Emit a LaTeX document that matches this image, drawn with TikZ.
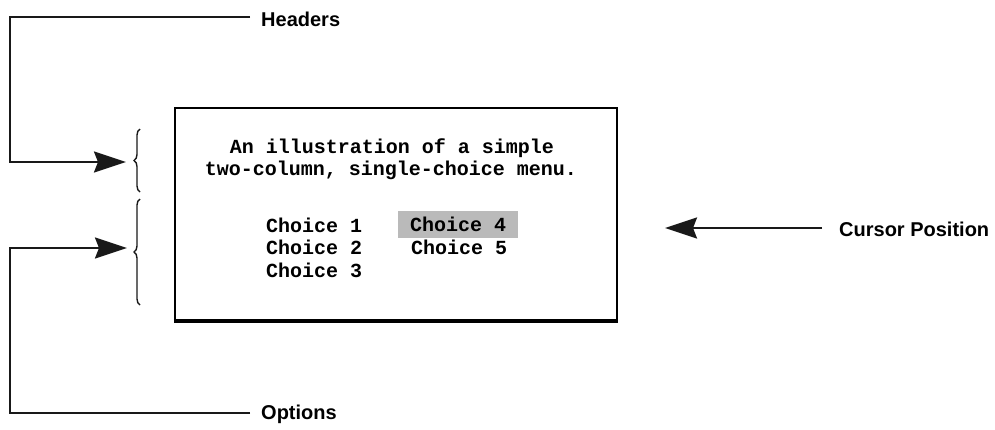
\documentclass[tikz,border=0pt]{standalone}
\usepackage{fontspec}
\setmainfont{Liberation Sans}
\newfontfamily\screenfont{Liberation Mono}
\usetikzlibrary{arrows.meta,calc,positioning,decorations.pathreplacing}
\tikzset{
  node-label/.style={anchor=west,inner sep=0pt,font=\fontsize{20}{22}\selectfont\bfseries},
  node-menu/.style={draw,line width=2.2pt,minimum width=442pt,minimum height=212pt,inner sep=0pt},
  node-line/.style={inner sep=0pt,font=\fontsize{20}{22}\selectfont\screenfont\bfseries},
  node-choice/.style={anchor=west,inner sep=0pt,font=\fontsize{20}{22}\selectfont\screenfont\bfseries},
  node-sel/.style={node-choice,fill=black!27,inner xsep=12pt,minimum height=27pt},
  conn/.style={line width=2.4pt,black!90,-{Stealth[length=32pt,width=21pt,inset=4pt]}},
  wavy/.style={decorate,decoration={brace,amplitude=6pt},line width=1.4pt,black!90},
}

\begin{document}
\begin{tikzpicture}[x=1pt,y=-1pt]
  \useasboundingbox (0,0) rectangle (995,429);

  % MENU BOX
  \node[node-menu] (menu) at (396,214) {};
  \draw[line width=4.5pt] (menu.south west) -- (menu.south east);
  \node[node-line] (l1) at (392,148) {An illustration of a simple};
  \node[node-line] (l2) at (391,170) {two-column, single-choice menu.};

  \node[node-choice] (c1) at (266,225)   {Choice 1};
  \node[node-choice] (c2) at (266,247.5) {Choice 2};
  \node[node-choice] (c3) at (266,270)   {Choice 3};
  \node[node-sel]    (c4) at (398,224)   {Choice 4};
  \node[node-choice] (c5) at (411,247.5) {Choice 5};

  % BRACES
  \coordinate (hb-bot) at (140,192);
  \coordinate (hb-top) at (140,129);
  \coordinate (ob-bot) at (140,305);
  \coordinate (ob-top) at (140,199);
  \draw[wavy] (hb-bot) -- (hb-top);
  \draw[wavy] (ob-bot) -- (ob-top);
  \coordinate (hb-tip) at (126,162);
  \coordinate (ob-tip) at (127,248);

  % LABELS
  \node[node-label] (hdr) at (261,19)  {Headers};
  \node[node-label] (opt) at (261,414) {Options};
  \node[node-label] (cur) at (839,229) {Cursor Position};

  \coordinate (hcorner) at (10,17);
  \coordinate (ocorner) at (10,413);
  \coordinate (ctip)    at (665,228);

  \draw[conn] ($(hdr.west)+(-11,-2)$) -- (hcorner) |- (hb-tip);
  \draw[conn] ($(opt.west)+(-11,-1)$) -- (ocorner) |- (ob-tip);
  \draw[conn] ($(cur.west)+(-17,-1)$) -- (ctip);

\end{tikzpicture}
\end{document}
